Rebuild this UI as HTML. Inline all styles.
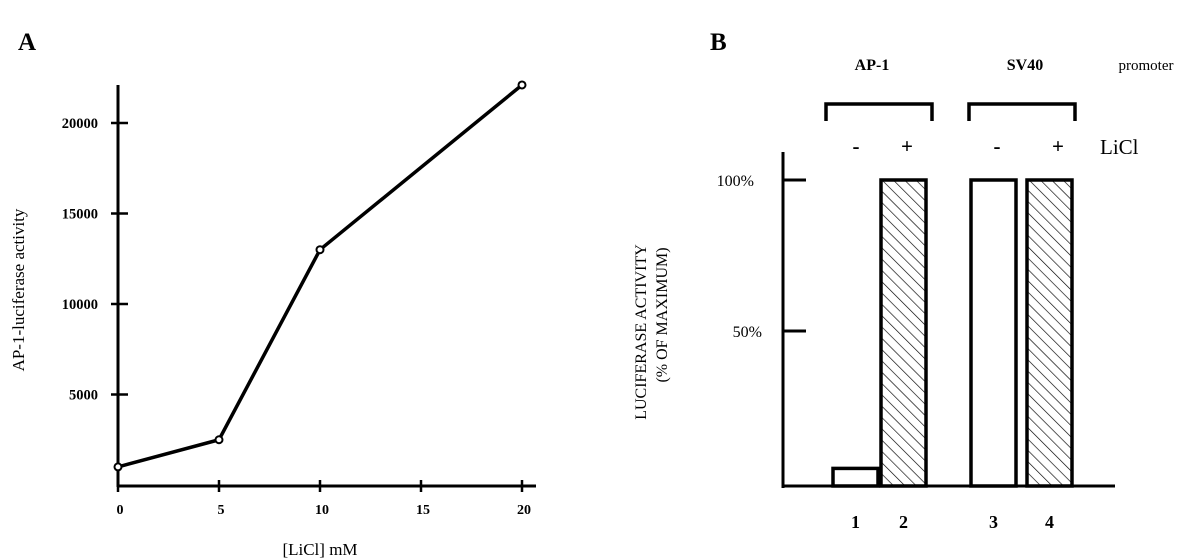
<!DOCTYPE html>
<html><head><meta charset="utf-8"><style>
body{margin:0;background:#fff;}
svg{display:block;font-family:"Liberation Serif",serif;}
</style></head><body>
<svg id="c" width="1198" height="560" viewBox="0 0 1198 560">
<defs>
<pattern id="hatch" patternUnits="userSpaceOnUse" width="8" height="8" patternTransform="rotate(-45)">
<line x1="0" y1="0" x2="0" y2="8" stroke="#000" stroke-width="1.3"/>
</pattern>
</defs>
<text x="18" y="50" font-size="25" font-weight="bold">A</text>
<text x="710" y="50" font-size="25" font-weight="bold">B</text>
<g id="pa"></g>
<g id="pb"></g>
</svg>
<script>
const xValsA=[0,5,10,20];
const yValsA=[1000,2500,13000,22100];
const xTicksA=[0,5,10,15,20];
const yTicksA=[5000,10000,15000,20000];
const barLabels=["1","2","3","4"];
const barValues=[4.5,100,100,100];
const barHatched=[false,true,false,true];
const yTicksB=[50,100];
const NS="http://www.w3.org/2000/svg";
function mk(p,t,a){const e=document.createElementNS(NS,t);for(const k in a)e.setAttribute(k,a[k]);p.appendChild(e);return e;}
// Panel A
const pa=document.getElementById('pa');
const xA=v=>118+v*20.2, yA=v=>485-v*0.0181;
let e=mk(pa,'line',{x1:118,y1:85,x2:118,y2:487,stroke:'#000','stroke-width':3});

e=mk(pa,'line',{x1:117,y1:486,x2:536,y2:486,stroke:'#000','stroke-width':3});

xTicksA.forEach(t=>{
 mk(pa,'line',{x1:xA(t),y1:480,x2:xA(t),y2:492,stroke:'#000','stroke-width':2.5});
 const s=mk(pa,'text',{x:xA(t)+2,y:514,'font-size':14,'font-weight':'bold','text-anchor':'middle'});s.textContent=t;
 
});
yTicksA.forEach(t=>{
 mk(pa,'line',{x1:111,y1:yA(t),x2:128,y2:yA(t),stroke:'#000','stroke-width':2.5});
 const s=mk(pa,'text',{x:98,y:yA(t)+5,'font-size':14.5,'font-weight':'bold','text-anchor':'end'});s.textContent=t;
 
});
e=mk(pa,'polyline',{points:xValsA.map((x,i)=>xA(x)+','+yA(yValsA[i])).join(' '),fill:'none',stroke:'#000','stroke-width':3.5,'stroke-linejoin':'round'});

xValsA.forEach((x,i)=>{const c=mk(pa,'circle',{cx:xA(x),cy:yA(yValsA[i]),r:3.5,fill:'#fff',stroke:'#000','stroke-width':2});
 });
e=mk(pa,'text',{x:320,y:555,'font-size':17,'text-anchor':'middle'});e.textContent='[LiCl] mM';

e=mk(pa,'text',{x:0,y:0,'font-size':17,'text-anchor':'middle',transform:'translate(24,290) rotate(-90)'});e.textContent='AP-1-luciferase activity';

// Panel B
const pb=document.getElementById('pb');
const yB=v=>482-v*3.02;
const barX=[833,881,971,1027], bw=45;
e=mk(pb,'line',{x1:783,y1:152,x2:783,y2:488,stroke:'#000','stroke-width':3});

e=mk(pb,'line',{x1:782,y1:486,x2:1115,y2:486,stroke:'#000','stroke-width':3});

yTicksB.forEach(t=>{
 mk(pb,'line',{x1:783,y1:yB(t),x2:806,y2:yB(t),stroke:'#000','stroke-width':3});
 const s=mk(pb,'text',{x:t===100?754:762,y:yB(t)+6,'font-size':16,'text-anchor':'end'});s.textContent=t+'%';
 
});
barValues.forEach((v,i)=>{
 const r=mk(pb,'rect',{x:barX[i],y:yB(v),width:bw,height:486-yB(v),fill:barHatched[i]?'url(#hatch)':'#fff',stroke:'#000','stroke-width':3.5});
 
 const s=mk(pb,'text',{x:barX[i]+bw/2,y:528,'font-size':18,'font-weight':'bold','text-anchor':'middle'});s.textContent=barLabels[i];
 
});
[[826,932],[969,1075]].forEach(b=>{const p=mk(pb,'polyline',{points:`${b[0]},121 ${b[0]},104 ${b[1]},104 ${b[1]},121`,fill:'none',stroke:'#000','stroke-width':3.5});
 });
[['AP-1',872,'bold',16],['SV40',1025,'bold',16],['promoter',1146,'normal',15]].forEach(t=>{const s=mk(pb,'text',{x:t[1],y:70,'font-size':t[3],'font-weight':t[2],'text-anchor':'middle'});s.textContent=t[0];
 });
[['-',856],['+',907],['-',997],['+',1058]].forEach(t=>{const s=mk(pb,'text',{x:t[1],y:153,'font-size':21,'font-weight':'bold','text-anchor':'middle'});s.textContent=t[0];
 });
e=mk(pb,'text',{x:1100,y:154,'font-size':21});e.textContent='LiCl';

e=mk(pb,'text',{x:0,y:0,'font-size':16,'text-anchor':'middle',transform:'translate(646,332) rotate(-90)'});e.textContent='LUCIFERASE ACTIVITY';

e=mk(pb,'text',{x:0,y:0,'font-size':16,'text-anchor':'middle',transform:'translate(667,315) rotate(-90)'});e.textContent='(% OF MAXIMUM)';

</script>
</body></html>
